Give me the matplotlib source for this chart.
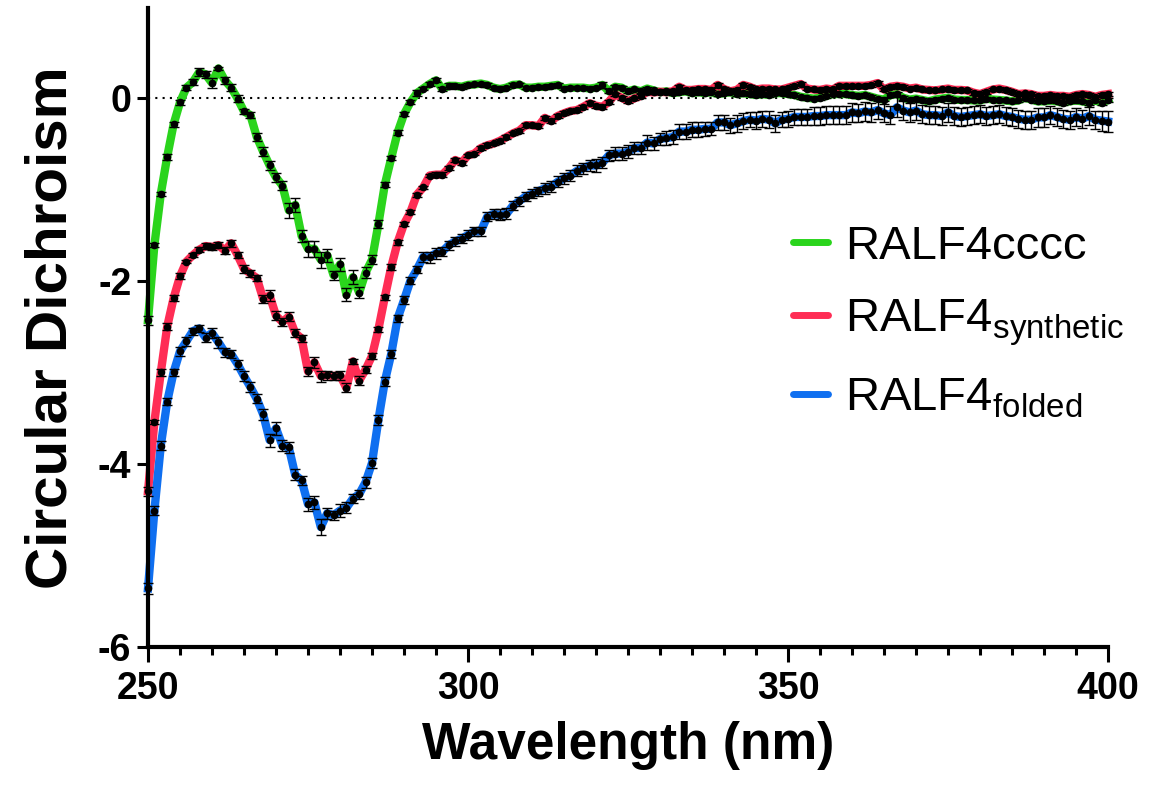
import numpy as np
import matplotlib
matplotlib.use('Agg')
import matplotlib.pyplot as plt
from matplotlib.lines import Line2D
from matplotlib.ticker import MultipleLocator

# wavelength axis, 1 nm steps
wavelength = np.arange(250, 401)

# RALF4cccc (green)
cccc = [-2.43, -1.61, -1.05, -0.645, -0.29, -0.05, 0.11, 0.17, 0.28, 0.255,
        0.16, 0.32, 0.19, 0.11, -0.01, -0.15, -0.19, -0.43, -0.59, -0.74,
        -0.87, -0.96, -1.23, -1.17, -1.51, -1.65, -1.65, -1.77, -1.72, -1.94,
        -1.82, -2.15, -1.96, -2.13, -1.91, -1.77, -1.38, -0.95, -0.66, -0.38,
        -0.18, -0.05, 0.05, 0.10, 0.15, 0.19, 0.095, 0.13, 0.13, 0.12,
        0.14, 0.145, 0.155, 0.14, 0.11, 0.095, 0.11, 0.14, 0.145, 0.11,
        0.11, 0.12, 0.12, 0.13, 0.14, 0.10, 0.11, 0.11, 0.11, 0.10,
        0.11, 0.14, 0.07, 0.12, 0.11, 0.07, 0.09, 0.07, 0.10, 0.08,
        0.06, 0.07, 0.05, 0.06, 0.07, 0.05, 0.06, 0.05, 0.06, 0.04,
        0.05, 0.06, 0.04, 0.05, 0.04, 0.03, 0.04, 0.03, 0.05, 0.05,
        0.04, 0.03, 0.01, 0.0, -0.01, 0.0, 0.02, 0.04, 0.04, 0.04,
        0.03, 0.02, 0.03, 0.01, -0.01, -0.02, 0.03, 0.04, 0.0, -0.02,
        -0.01, -0.025, -0.04, -0.02, -0.01, 0.0, -0.02, -0.025, -0.025, -0.03,
        -0.03, -0.01, -0.02, -0.025, -0.03, -0.04, -0.03, 0.0, -0.02, -0.04,
        -0.04, -0.03, -0.04, -0.055, -0.04, -0.03, -0.04, -0.055, -0.03, -0.055,
        -0.025]
cccc_err = [0.05, 0.02, 0.02, 0.03, 0.03, 0.03, 0.03, 0.03, 0.04, 0.04,
            0.05, 0.02, 0.04, 0.04, 0.04, 0.03, 0.03, 0.04, 0.05, 0.05,
            0.05, 0.05, 0.08, 0.08, 0.07, 0.09, 0.09, 0.09, 0.07, 0.05,
            0.07, 0.07, 0.08, 0.06, 0.06, 0.05, 0.04, 0.03, 0.02, 0.03,
            0.02, 0.02, 0.03, 0.02, 0.02, 0.02, 0.02, 0.03, 0.02, 0.02,
            0.02, 0.02, 0.02, 0.02, 0.02, 0.02, 0.02, 0.02, 0.02, 0.02,
            0.02, 0.02, 0.02, 0.02, 0.02, 0.02, 0.02, 0.02, 0.02, 0.02,
            0.02, 0.03, 0.02, 0.02, 0.02, 0.02, 0.02, 0.02, 0.02, 0.02,
            0.02, 0.02, 0.02, 0.02, 0.02, 0.02, 0.02, 0.02, 0.02, 0.02,
            0.02, 0.02, 0.02, 0.02, 0.02, 0.02, 0.02, 0.02, 0.02, 0.02,
            0.02, 0.02, 0.02, 0.02, 0.02, 0.02, 0.02, 0.02, 0.02, 0.02,
            0.02, 0.02, 0.02, 0.02, 0.02, 0.02, 0.02, 0.02, 0.02, 0.02,
            0.02, 0.02, 0.02, 0.02, 0.02, 0.02, 0.02, 0.02, 0.02, 0.02,
            0.02, 0.02, 0.02, 0.02, 0.02, 0.02, 0.02, 0.02, 0.02, 0.02,
            0.02, 0.02, 0.02, 0.02, 0.02, 0.02, 0.02, 0.02, 0.02, 0.02,
            0.02]

# RALF4 synthetic (red)
synthetic = [-4.30, -3.54, -3.00, -2.50, -2.19, -1.95, -1.79, -1.72, -1.66, -1.62,
             -1.63, -1.61, -1.67, -1.59, -1.72, -1.87, -1.92, -1.97, -2.20, -2.16,
             -2.38, -2.45, -2.39, -2.57, -2.63, -2.99, -2.89, -3.04, -3.03, -3.04,
             -3.03, -3.17, -2.88, -3.09, -2.97, -2.82, -2.53, -2.18, -1.85, -1.58,
             -1.38, -1.25, -1.06, -0.98, -0.85, -0.84, -0.84, -0.77, -0.68, -0.71,
             -0.63, -0.61, -0.55, -0.52, -0.50, -0.47, -0.43, -0.39, -0.36, -0.30,
             -0.30, -0.31, -0.22, -0.255, -0.20, -0.17, -0.145, -0.135, -0.10, -0.06,
             -0.087, -0.10, -0.044, 0.036, 0.0, -0.036, -0.007, 0.02, 0.065, 0.058,
             0.065, 0.06, 0.07, 0.12, 0.085, 0.085, 0.095, 0.095, 0.085, 0.14,
             0.095, 0.07, 0.085, 0.14, 0.12, 0.09, 0.10, 0.10, 0.09, 0.09,
             0.11, 0.13, 0.15, 0.10, 0.09, 0.085, 0.10, 0.09, 0.13, 0.13,
             0.13, 0.13, 0.13, 0.14, 0.16, 0.09, 0.12, 0.13, 0.12, 0.10,
             0.11, 0.09, 0.085, 0.08, 0.09, 0.10, 0.085, 0.085, 0.08, 0.055,
             0.04, 0.065, 0.09, 0.10, 0.085, 0.065, 0.04, 0.047, 0.04, 0.02,
             0.02, 0.03, 0.02, 0.02, 0.01, 0.03, 0.04, 0.03, 0.01, 0.03,
             0.04]
synthetic_err = [0.05, 0.02, 0.04, 0.04, 0.03, 0.03, 0.02, 0.02, 0.03, 0.03,
                 0.03, 0.03, 0.04, 0.04, 0.03, 0.04, 0.04, 0.03, 0.04, 0.06,
                 0.05, 0.04, 0.05, 0.04, 0.04, 0.05, 0.06, 0.06, 0.05, 0.04,
                 0.05, 0.05, 0.03, 0.05, 0.04, 0.03, 0.03, 0.03, 0.03, 0.03,
                 0.02, 0.02, 0.02, 0.02, 0.02, 0.03, 0.03, 0.02, 0.02, 0.02,
                 0.02, 0.02, 0.02, 0.02, 0.02, 0.02, 0.02, 0.02, 0.02, 0.02,
                 0.02, 0.02, 0.02, 0.02, 0.02, 0.02, 0.02, 0.02, 0.02, 0.02,
                 0.02, 0.02, 0.02, 0.02, 0.02, 0.02, 0.02, 0.02, 0.02, 0.02,
                 0.02, 0.02, 0.02, 0.02, 0.02, 0.02, 0.02, 0.02, 0.02, 0.02,
                 0.02, 0.02, 0.02, 0.02, 0.02, 0.02, 0.02, 0.02, 0.02, 0.02,
                 0.02, 0.02, 0.02, 0.02, 0.02, 0.02, 0.02, 0.02, 0.02, 0.02,
                 0.02, 0.02, 0.02, 0.02, 0.02, 0.02, 0.02, 0.02, 0.02, 0.02,
                 0.02, 0.02, 0.02, 0.02, 0.02, 0.02, 0.02, 0.02, 0.02, 0.02,
                 0.02, 0.02, 0.02, 0.02, 0.02, 0.02, 0.02, 0.02, 0.02, 0.02,
                 0.02, 0.02, 0.02, 0.02, 0.02, 0.02, 0.02, 0.02, 0.02, 0.02,
                 0.02]

# RALF4 folded (blue)
folded = [-5.36, -4.51, -3.80, -3.32, -3.00, -2.77, -2.66, -2.55, -2.52, -2.62,
          -2.57, -2.67, -2.78, -2.80, -2.91, -3.04, -3.16, -3.29, -3.46, -3.74,
          -3.61, -3.80, -3.82, -4.12, -4.18, -4.44, -4.42, -4.69, -4.54, -4.56,
          -4.51, -4.48, -4.38, -4.33, -4.20, -3.99, -3.52, -3.10, -2.80, -2.41,
          -2.21, -2.00, -1.88, -1.74, -1.74, -1.70, -1.68, -1.61, -1.57, -1.54,
          -1.50, -1.46, -1.46, -1.30, -1.27, -1.28, -1.27, -1.18, -1.13, -1.08,
          -1.05, -1.02, -0.99, -0.97, -0.92, -0.88, -0.85, -0.80, -0.77, -0.74,
          -0.74, -0.71, -0.63, -0.61, -0.61, -0.59, -0.55, -0.55, -0.49, -0.50,
          -0.45, -0.44, -0.43, -0.37, -0.37, -0.35, -0.35, -0.34, -0.34, -0.27,
          -0.27, -0.30, -0.28, -0.255, -0.24, -0.25, -0.23, -0.24, -0.28, -0.24,
          -0.23, -0.21, -0.21, -0.21, -0.20, -0.20, -0.19, -0.19, -0.19, -0.19,
          -0.16, -0.17, -0.15, -0.16, -0.135, -0.17, -0.19, -0.105, -0.14, -0.16,
          -0.14, -0.18, -0.19, -0.19, -0.20, -0.16, -0.20, -0.21, -0.20, -0.19,
          -0.18, -0.20, -0.19, -0.18, -0.20, -0.21, -0.23, -0.24, -0.24, -0.215,
          -0.215, -0.19, -0.21, -0.23, -0.24, -0.21, -0.23, -0.20, -0.24, -0.25,
          -0.26]
folded_err = [0.06, 0.05, 0.05, 0.04, 0.04, 0.05, 0.05, 0.04, 0.04, 0.05,
              0.05, 0.06, 0.05, 0.04, 0.05, 0.05, 0.06, 0.05, 0.06, 0.07,
              0.07, 0.06, 0.06, 0.06, 0.05, 0.07, 0.07, 0.09, 0.06, 0.05,
              0.07, 0.06, 0.05, 0.05, 0.06, 0.05, 0.05, 0.05, 0.04, 0.04,
              0.04, 0.04, 0.04, 0.05, 0.06, 0.06, 0.05, 0.05, 0.05, 0.05,
              0.05, 0.05, 0.05, 0.05, 0.05, 0.06, 0.06, 0.05, 0.05, 0.05,
              0.05, 0.05, 0.06, 0.06, 0.06, 0.06, 0.06, 0.06, 0.06, 0.06,
              0.07, 0.06, 0.06, 0.07, 0.07, 0.07, 0.07, 0.07, 0.08, 0.07,
              0.07, 0.08, 0.08, 0.08, 0.08, 0.08, 0.08, 0.08, 0.07, 0.08,
              0.08, 0.08, 0.09, 0.09, 0.08, 0.09, 0.09, 0.09, 0.09, 0.08,
              0.09, 0.09, 0.09, 0.09, 0.10, 0.10, 0.10, 0.10, 0.10, 0.10,
              0.10, 0.10, 0.10, 0.10, 0.10, 0.10, 0.10, 0.11, 0.10, 0.10,
              0.10, 0.10, 0.10, 0.10, 0.10, 0.10, 0.10, 0.10, 0.10, 0.10,
              0.10, 0.10, 0.10, 0.10, 0.10, 0.10, 0.10, 0.10, 0.10, 0.10,
              0.10, 0.10, 0.10, 0.10, 0.10, 0.10, 0.10, 0.10, 0.10, 0.11,
              0.11]

labels = ['RALF4cccc', 'RALF4$_{synthetic}$', 'RALF4$_{folded}$']
colors = ['#2ad41c', '#ff2d55', '#0f6ff0']

plt.rcParams['font.family'] = ['Liberation Sans', 'DejaVu Sans']
plt.rcParams['mathtext.default'] = 'regular'
plt.rcParams['axes.unicode_minus'] = False

fig = plt.figure(figsize=(11.65, 7.89), dpi=100)
ax = fig.add_axes([148/1165, 1 - 647/789, 960/1165, 639/789])

ax.axhline(0, color='black', ls=(0, (1, 2.5)), lw=1.5, zorder=1)

for y, e, c in zip([cccc, synthetic, folded], [cccc_err, synthetic_err, folded_err], colors):
    ax.plot(wavelength, y, color=c, lw=6, solid_joinstyle='round', zorder=2, clip_on=False)
    ax.errorbar(wavelength, y, yerr=e, fmt='o', color='black', ms=4.5,
                elinewidth=1, capsize=3.5, capthick=1, zorder=3, clip_on=False)

ax.set_xlim(250, 400)
ax.set_ylim(-6, 0.98)
ax.set_xticks([250, 300, 350, 400])
ax.xaxis.set_minor_locator(MultipleLocator(5))
ax.set_yticks([0, -2, -4, -6])

for s in ['top', 'right']:
    ax.spines[s].set_visible(False)
for s in ['left', 'bottom']:
    ax.spines[s].set_linewidth(3)

ax.tick_params(axis='x', which='major', length=11, width=2.2, pad=6)
ax.tick_params(axis='x', which='minor', length=6, width=2.2)
ax.tick_params(axis='y', which='major', length=8, width=2.2, pad=4)

for lab in ax.get_xticklabels() + ax.get_yticklabels():
    lab.set_fontweight('bold')
    lab.set_fontsize(27)

ax.set_xlabel('Wavelength (nm)', fontsize=37, fontweight='bold', labelpad=10)
ax.set_ylabel('Circular Dichroism', fontsize=42, fontweight='bold', labelpad=14)

handles = [Line2D([], [], color=c, lw=5, solid_capstyle='round') for c in colors]
fig.legend(handles, labels, loc='upper left', bbox_to_anchor=(774/1165, 1 - 206/789),
           frameon=False, fontsize=34, handlelength=0.75, handletextpad=0.35,
           labelspacing=0.6, borderaxespad=0)

fig.savefig('out.png', dpi=100)
